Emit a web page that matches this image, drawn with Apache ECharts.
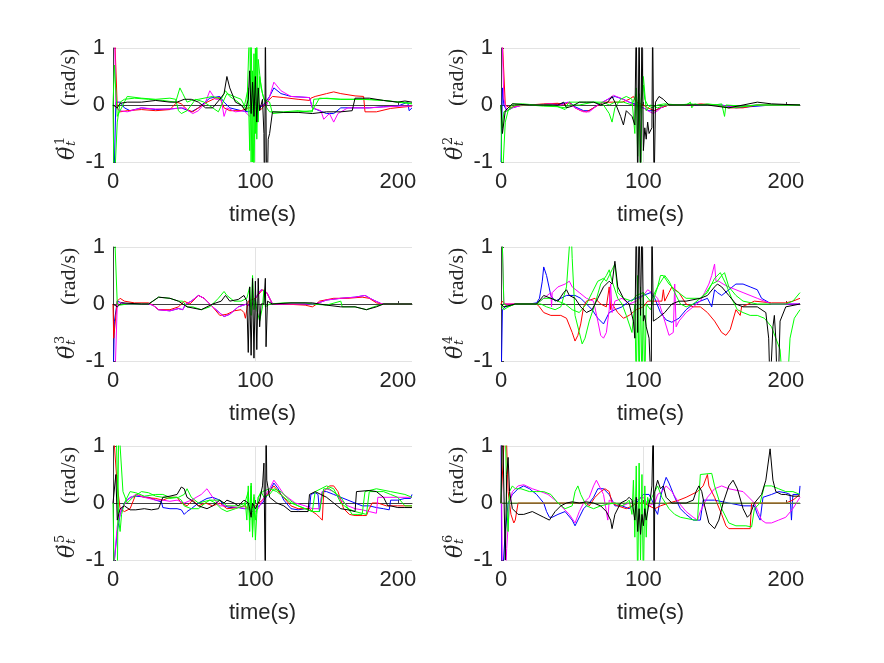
<!DOCTYPE html>
<html>
<head>
<meta charset="utf-8">
<script src="https://cdn.jsdelivr.net/npm/echarts@6/dist/echarts.min.js"></script>
<style>
  html, body { margin: 0; padding: 0; background: #fff; }
  #chart { width: 884px; height: 663px; }
</style>
</head>
<body>
<div id="chart"></div>
<script>
// axis ticks / labels
const xTicks = [0, 100, 200];
const yTicks = [-1, 0, 1];
const xLabel = 'time(s)';
const yUnit = '(rad/s)';

// joint 1  ([time, rate] pairs)
const p1_r = [[0,1.5],[1.5,1.0],[3,-0.05],[5,-0.12],[10,-0.1],[20,-0.08],[30,-0.1],[40,-0.08],[45,0.05],[48,0.02],[52,-0.08],[56,-0.12],[60,-0.05],[66,0.05],[72,0.12],[75,0.13],[78,-0.05],[82,-0.1],[90,-0.1],[95,-0.05],[100,-0.05],[104,-0.08],[108,0.05],[112,0.15],[120,0.13],[130,0.1],[138,0.08],[139,0.12],[142,0.15],[150,0.2],[155,0.23],[160,0.2],[170,0.16],[176,0.15],[177,-0.12],[185,-0.12],[195,-0.06],[210,-0.02]];
const p1_g = [[0,0],[0.8,-1.5],[2,-1.5],[3,-0.3],[5,0.05],[8,0.1],[15,0.12],[25,0.1],[35,0.08],[44,0.05],[47,0.3],[49,0.2],[52,0.05],[55,0.08],[60,0.1],[70,0.15],[76,0.1],[79,0.25],[82,0.15],[88,0.05],[92,-0.05],[95,0.3],[96,-0.8],[97,1.5],[98,-1.0],[99,0.9],[100,-0.5],[101,1.2],[102,-0.3],[103,0.5],[105,0.2],[108,-0.05],[110,-0.12],[120,-0.12],[130,-0.1],[138,-0.12],[140,-0.12],[141,0.1],[150,0.12],[160,0.1],[170,0.1],[180,0.1],[190,0.08],[200,0.05],[210,0.02]];
const p1_g2 = [[0,0],[1,0.7],[2,0.7],[3,-0.2],[5,-0.1],[10,0.15],[20,0.12],[30,0.1],[40,0.12],[44,0.1],[46,-0.1],[48,-0.15],[52,-0.1],[58,0.1],[64,0.05],[70,-0.05],[74,-0.12],[80,0.2],[85,0.15],[90,0.1],[94,-0.1],[96,1.5],[97,-1.0],[98,0.6],[99,-1.5],[100,1.0],[101,-0.6],[102,0.8],[104,0.3],[106,0.1],[110,0.05],[112,-0.15],[120,-0.13],[130,-0.12],[140,-0.1],[145,0.12],[160,0.1],[175,0.1],[190,0.08],[210,0.03]];
const p1_b = [[0,-1.5],[1,-1.0],[2,0.05],[5,0.05],[8,-0.05],[12,-0.1],[20,-0.05],[30,-0.08],[40,-0.07],[48,-0.05],[55,-0.12],[60,-0.05],[68,0.12],[75,0.15],[78,0.05],[82,-0.05],[90,-0.1],[95,-0.12],[100,-0.05],[105,-0.02],[110,0.15],[113,0.3],[118,0.2],[125,0.15],[138,0.13],[140,-0.05],[145,-0.1],[150,-0.15],[155,-0.15],[160,-0.05],[170,-0.05],[180,-0.05],[190,-0.03],[200,-0.02],[207,0.05],[208,-0.1],[210,-0.05]];
const p1_m = [[0,1.5],[1.2,1.2],[2,-0.05],[5,-0.1],[10,-0.12],[20,-0.05],[30,-0.07],[40,-0.07],[50,-0.05],[56,-0.15],[60,-0.1],[65,0.05],[68,0.25],[72,0.1],[76,0.1],[78,-0.2],[80,-0.05],[86,-0.12],[92,-0.1],[96,-0.2],[100,-0.05],[105,0],[108,0],[110,0.15],[113,0.4],[118,0.25],[125,0.15],[138,0.13],[140,-0.05],[146,-0.1],[148,-0.25],[152,-0.15],[155,-0.3],[158,-0.15],[165,-0.05],[180,-0.05],[200,-0.02],[210,-0.02]];
const p1_k = [[0,0],[3,-0.05],[5,0.03],[10,0.05],[20,0.05],[30,0.08],[40,0.05],[45,0.05],[50,0.1],[55,0.1],[60,0.05],[65,-0.05],[70,-0.05],[75,0.1],[78,0.2],[80,0.5],[82,0.3],[86,0.05],[90,0],[93,-0.1],[95,0.1],[96,0.6],[97,-0.15],[98,0.4],[99,-0.2],[100,0.5],[101,-0.3],[102,0.3],[103,-0.1],[105,0.1],[106,-0.5],[106.5,-2],[107,1.5],[108,-2],[109,-0.6],[110,-0.5],[112,-0.12],[120,-0.13],[130,-0.13],[140,-0.15],[150,-0.12],[160,-0.12],[168,-0.1],[170,0.12],[180,0.12],[190,0.08],[200,0.05],[205,0.07],[210,0.05]];

// joint 2
const p2_r = [[0,1.5],[1.2,1],[3,0],[6,-0.05],[10,-0.02],[20,0],[30,0.02],[40,0.03],[44,0],[48,0.05],[52,-0.05],[56,-0.1],[60,-0.12],[65,-0.05],[72,0.05],[80,0.05],[85,0.05],[90,0.1],[93,0.15],[95,0.05],[100,0],[103,-0.05],[108,-0.1],[112,-0.05],[118,0],[125,0],[135,0],[140,0.02],[150,0],[160,-0.05],[170,-0.05],[180,0],[195,0],[210,0]];
const p2_g = [[0,0],[0.6,-1.5],[2,-1.5],[3,-0.3],[5,-0.1],[8,0.02],[15,0.02],[25,0],[35,0],[40,-0.03],[45,-0.05],[48,0.05],[52,0.05],[58,0.05],[66,0.05],[72,0],[76,-0.15],[78,-0.3],[80,-0.05],[84,0.1],[88,0.15],[92,0.1],[94,-0.5],[95,0.3],[96,-0.9],[97,0.2],[98,-1.5],[99,0.1],[100,0.35],[101,0.1],[103,0],[106,-0.05],[110,0],[115,0.02],[125,0],[130,0],[133,0.05],[134,-0.05],[136,0.02],[140,0],[150,0],[155,0.02],[157,-0.2],[158,0],[170,-0.02],[180,0],[195,0],[210,0]];
const p2_g2 = [[0,0],[1,-0.4],[2,-0.12],[5,-0.1],[10,0],[20,0],[30,-0.02],[40,-0.03],[45,-0.08],[48,0],[55,0],[65,0.05],[72,0.05],[76,0],[80,0.05],[86,0.05],[92,0],[95,0.2],[97,-0.3],[100,0.5],[102,-0.1],[105,0],[110,-0.05],[115,0],[125,0],[133,0.02],[140,0],[145,0.02],[152,0],[160,-0.05],[170,-0.03],[180,0],[210,0]];
const p2_b = [[0,-1],[1,0.3],[2,0],[4,-0.1],[8,-0.05],[15,0],[25,0],[35,0.02],[42,0.02],[48,0.05],[52,-0.03],[58,-0.1],[62,-0.1],[68,0],[75,0.1],[80,0.15],[86,0.1],[90,0.05],[96,0],[100,-0.05],[104,-0.1],[108,-0.1],[112,-0.05],[118,0],[130,0],[145,0],[155,0],[165,-0.05],[175,-0.03],[190,0],[210,0]];
const p2_m = [[0,1.5],[1,1.0],[2,0.1],[4,-0.1],[8,-0.05],[15,0],[25,0],[35,0.02],[42,0],[47,0.05],[52,-0.05],[58,-0.12],[62,-0.12],[68,0],[75,0.1],[79,0.17],[84,0.12],[90,0.05],[95,-0.02],[100,-0.05],[103,-0.1],[107,-0.15],[110,-0.1],[115,0],[130,0],[150,0],[165,-0.03],[180,0],[210,0]];
const p2_k = [[0,0],[1,-0.5],[3,-0.1],[8,0.02],[20,0],[30,0],[40,0],[44,0.05],[46,-0.05],[50,-0.02],[55,0.05],[60,0.05],[65,0.05],[70,0],[75,0.05],[78,0.15],[80,0.05],[84,-0.2],[86,-0.35],[88,-0.1],[92,-0.2],[94,-0.35],[95,1.5],[96,-1.5],[97,1.5],[98,-1.5],[99,1.5],[100,-0.8],[101,-0.4],[102,-0.6],[103,-0.3],[104,-0.5],[106,-0.4],[106.5,1.5],[107.5,-1.5],[108.5,0.05],[111,0.15],[114,0.1],[118,0],[130,0],[145,0],[160,-0.05],[170,0],[180,0.05],[190,0.02],[210,0]];

// joint 3
const p3_r = [[0,0],[0.5,-0.6],[1.5,-0.6],[3,0.05],[5,0.1],[8,0.05],[15,0.02],[25,0.02],[28,-0.02],[32,-0.1],[40,-0.1],[46,-0.05],[50,0.05],[54,0],[58,0.1],[60,0.15],[64,0.1],[70,-0.05],[75,-0.2],[80,-0.18],[85,-0.12],[90,-0.1],[92,-0.15],[93,-0.25],[95,0.05],[100,0.1],[105,0.25],[108,0.2],[112,0],[120,0],[135,-0.02],[140,-0.05],[142,-0.02],[145,0.05],[155,0.1],[165,0.1],[175,0.12],[180,0.1],[185,0.02],[190,0],[210,0]];
const p3_g = [[0,1.5],[1.5,1.0],[3,0],[5,-0.02],[10,0],[25,0],[28,0.05],[32,0.12],[40,0.1],[46,0.05],[49,0.05],[52,-0.05],[56,-0.05],[62,-0.1],[68,-0.05],[74,0.1],[78,0.22],[80,0.15],[85,0.05],[90,0.05],[94,0.1],[96,0.3],[97,-0.2],[98,0.5],[99,-0.1],[100,0.1],[101,-0.1],[103,-0.3],[105,-0.05],[106,0.25],[107,-0.05],[110,0],[120,0.02],[135,0.02],[140,0],[150,-0.02],[160,0.05],[161,-0.05],[170,-0.05],[178,-0.1],[183,-0.05],[190,0],[210,0]];
const p3_b = [[0,-1.5],[1,-0.3],[3,0.05],[6,0.02],[10,0],[25,0],[28,-0.02],[32,-0.1],[40,-0.12],[46,-0.08],[49,-0.1],[51,0],[55,0.05],[60,0.15],[64,0.1],[70,-0.05],[78,-0.22],[82,-0.18],[88,-0.05],[94,0],[97,-0.05],[100,0.1],[104,0.25],[108,0.2],[112,0],[120,0],[135,0],[142,0],[150,0.07],[160,0.1],[170,0.12],[177,0.15],[182,0.08],[188,0.01],[190,0],[210,0]];
const p3_m = [[0,-1.5],[1.5,-1.2],[3,0],[5,0.03],[10,0],[25,0],[28,-0.02],[32,-0.1],[40,-0.12],[46,-0.08],[49,-0.1],[51,0],[55,0.05],[60,0.15],[64,0.1],[70,-0.05],[78,-0.22],[82,-0.18],[88,-0.05],[94,0],[97,-0.05],[100,0.1],[104,0.25],[108,0.2],[112,0],[120,0],[135,0],[142,0],[150,0.07],[160,0.1],[170,0.12],[177,0.15],[182,0.08],[188,0.01],[190,0],[210,0]];
const p3_k = [[0,0],[3,-0.05],[6,0.02],[20,0],[25,0],[28,0.05],[32,0.12],[40,0.1],[46,0.05],[52,-0.05],[62,-0.1],[70,0],[76,0.05],[79,0.15],[82,0.05],[88,0.08],[92,0.15],[94,0.05],[95,-0.85],[96,0.3],[97,-0.9],[98,0.45],[99,-0.95],[100,0.4],[101,-0.8],[102,0.45],[103,-0.4],[104,0],[106,0],[107,0.45],[107.5,-0.75],[108.5,0.05],[112,0],[125,0.02],[140,0.02],[150,-0.02],[160,-0.05],[170,-0.05],[178,-0.1],[185,-0.05],[190,0],[210,0]];

// joint 4
const p4_r = [[0,0],[1,0.05],[3,0],[10,0],[25,0],[27,-0.05],[30,-0.15],[35,-0.2],[42,-0.2],[46,-0.25],[50,-0.5],[52,-0.65],[54,-0.55],[56,-0.35],[58,-0.05],[60,0.05],[66,0.1],[70,0],[74,-0.05],[76,0.3],[77,-0.1],[78,0],[82,-0.15],[86,-0.25],[90,-0.2],[95,-0.1],[100,-0.05],[103,0.05],[110,0.05],[113,0.05],[114,0.25],[115,0.05],[118,0.2],[120,0.3],[125,0.2],[130,0],[135,-0.05],[140,-0.05],[145,-0.15],[150,-0.3],[155,-0.5],[158,-0.55],[161,-0.45],[165,-0.1],[166,-0.08],[168,-0.2],[169,-0.05],[172,-0.02],[178,0.05],[190,0.02],[200,0.02],[205,0.05],[210,0.1]];
const p4_g = [[0,1.5],[1,1.0],[2,0],[5,-0.05],[10,0],[20,0],[28,0],[32,-0.05],[38,-0.1],[42,-0.05],[46,0.3],[48,1.0],[49,1.5],[50,0.8],[52,-0.2],[55,-0.5],[57,-0.7],[59,-0.6],[62,-0.3],[66,0],[70,0.35],[74,0.5],[76,0.6],[78,0.4],[82,0.1],[85,0],[88,-0.2],[92,-0.5],[94,0],[95,-1.5],[96,0.5],[97,-1.5],[98,0.3],[99,-1.5],[100,0.2],[101,-1.5],[102,0],[105,-0.1],[110,0.3],[115,0.5],[118,0.4],[122,0.2],[126,0],[130,-0.05],[135,0],[140,0.1],[145,0.2],[150,0.45],[154,0.55],[158,0.35],[162,0.1],[166,-0.1],[170,-0.15],[175,-0.2],[180,-0.2],[185,-0.25],[190,-0.4],[196,-0.8],[198,-1.5],[201,-1.5],[203,-0.6],[206,-0.25],[210,-0.1]];
const p4_g2 = [[0,0],[2,-0.1],[5,-0.05],[10,0],[25,0],[30,0.1],[35,0.1],[40,0.05],[45,0],[50,-0.1],[55,-0.15],[60,0],[64,0.2],[68,0.4],[72,0.45],[74,0.4],[78,0.6],[80,0.7],[82,0.2],[86,0.1],[92,0.05],[95,0.15],[100,0.2],[105,0.05],[110,0.3],[112,0.5],[114,0.5],[118,0.35],[122,0.25],[130,0.1],[140,0.1],[144,0.2],[148,0.35],[152,0.4],[155,0.5],[157,0.55],[160,0.3],[165,0.15],[170,0.05],[180,0],[190,0],[200,0],[205,0.05],[210,0.2]];
const p4_b = [[0,-1.5],[1,-0.1],[3,-0.05],[10,0],[20,0],[25,0.02],[27,0.1],[29,0.4],[30,0.65],[31,0.68],[32,0.5],[35,0.15],[38,0.05],[42,0.1],[46,0.15],[52,0.15],[56,0.1],[60,0],[64,-0.1],[68,-0.25],[72,-0.35],[76,-0.15],[80,-0.1],[85,-0.05],[90,0.05],[95,0.1],[100,0.15],[105,0.2],[108,0.1],[112,-0.15],[116,-0.28],[120,-0.32],[125,-0.25],[130,-0.1],[135,0],[140,0.05],[145,0.1],[148,-0.05],[150,0.25],[152,0.2],[155,0.15],[160,0.25],[165,0.35],[170,0.35],[175,0.3],[180,0.25],[183,0.1],[190,0],[200,0],[210,0]];
const p4_m = [[0,1.5],[1,1.0],[2,0],[10,0],[25,0],[30,0.1],[35,0.2],[35.5,-0.05],[36,0.2],[40,0.3],[45,0.35],[48,0.4],[50,0.3],[55,0.2],[60,0.1],[65,0.05],[68,-0.3],[70,-0.55],[72,-0.6],[74,-0.5],[76,-0.1],[77,0.35],[78,-0.15],[80,0.05],[85,0.1],[90,0],[95,0.05],[100,0.15],[103,0.25],[106,0.2],[110,0.1],[115,-0.3],[118,-0.55],[121,-0.5],[122,0.35],[123,-0.4],[125,-0.3],[130,-0.15],[135,-0.05],[140,0.05],[143,0.2],[146,0.35],[148,0.5],[150,0.7],[151,0.4],[153,0.4],[156,0.35],[160,0.3],[170,0.2],[180,0.1],[190,0],[210,0]];
const p4_k = [[0,0],[2,-0.05],[10,0],[25,0],[30,0.15],[35,0.1],[40,0.05],[44,0.2],[46,0.25],[48,0.15],[52,0.1],[56,-0.05],[60,-0.15],[64,-0.1],[68,0.1],[72,0.3],[76,0.4],[78,0.35],[80,0.75],[82,0.3],[86,0.1],[90,0],[93,-0.3],[94,-0.6],[95,1.5],[96,-0.5],[97,1.5],[98,-0.2],[99,1.5],[100,-0.3],[101,-0.2],[102,-0.4],[104,-0.6],[105.5,-1.5],[106,1.5],[107,-0.3],[110,-0.25],[115,-0.15],[120,0],[125,0.05],[130,0.05],[140,0.1],[145,0.15],[150,0.3],[152,0.35],[155,0.3],[160,0.15],[165,0],[170,-0.05],[180,-0.05],[186,-0.15],[188,-0.6],[189,-1.5],[190,-1.5],[191,-0.4],[192,-0.2],[193,-0.6],[194,-1.5],[195,-1.2],[196,-0.3],[200,-0.05],[210,0]];

// joint 5
const p5_r = [[0,1.5],[1,1.0],[3,0.3],[5,-0.1],[8,-0.15],[12,-0.1],[16,0.15],[22,0.1],[30,0.08],[35,0.05],[40,0.1],[45,0.1],[48,0],[52,-0.05],[56,0.05],[60,-0.05],[65,0],[70,-0.05],[75,0],[80,-0.1],[88,-0.08],[92,-0.05],[96,-0.1],[100,-0.05],[105,0.05],[110,0.2],[113,0.3],[118,0.15],[125,-0.05],[130,-0.1],[138,-0.1],[140,-0.15],[143,-0.2],[145,-0.25],[147,-0.3],[148,0.2],[152,0.3],[155,0.3],[158,0.2],[162,-0.1],[166,-0.2],[170,-0.22],[175,-0.22],[178,-0.22],[180,-0.1],[182,0],[186,0],[192,-0.05],[200,-0.05],[210,-0.05]];
const p5_g = [[0,1.5],[2,1.5],[3,0.5],[4,-0.3],[5,-0.5],[6,-0.2],[8,0],[12,0.2],[16,0.18],[22,0.12],[30,0.15],[35,0.15],[40,0.1],[45,0.1],[48,0.05],[50,-0.05],[55,-0.1],[60,-0.1],[65,0],[68,0.05],[72,0],[76,-0.1],[80,-0.15],[86,-0.1],[92,-0.05],[95,0.2],[96,-0.3],[97,0.3],[98,-0.5],[99,0.1],[100,-0.65],[101,-0.2],[102,0.1],[104,0.2],[106,0.1],[110,0.15],[113,0.25],[118,0.2],[124,0.05],[130,-0.05],[140,-0.15],[142,0.2],[146,0.25],[150,0.3],[155,0.25],[160,0],[165,-0.1],[170,-0.15],[178,-0.2],[180,0.2],[185,0.2],[190,0.2],[195,0.15],[200,0.1],[205,-0.05],[210,-0.05]];
const p5_g2 = [[0,0],[1,-1.5],[3,-1.5],[4,1.5],[5,1.0],[7,0.2],[10,0],[14,0.1],[20,0.2],[25,0.18],[30,0.12],[40,0.08],[46,0.1],[50,0.15],[52,0.25],[55,0.1],[60,0],[68,0.05],[75,0.05],[80,-0.05],[88,-0.05],[93,0],[94,-0.3],[95,0.3],[96,-0.5],[97,0.35],[98,-0.6],[99,0.15],[100,-0.3],[102,0.1],[105,0.2],[110,0.25],[115,0.2],[125,0],[135,-0.1],[140,-0.15],[145,-0.15],[148,0.25],[152,0.25],[160,0.1],[168,-0.2],[172,-0.2],[175,-0.2],[177,0.2],[185,0.25],[195,0.2],[205,0.15],[210,0.1]];
const p5_b = [[0,-1.5],[1,-1.0],[3,-0.5],[5,-0.2],[8,0],[12,0.1],[16,0.12],[25,0.1],[30,0.05],[34,0.02],[35,-0.08],[40,-0.1],[45,-0.1],[48,-0.12],[50,-0.2],[52,-0.15],[55,-0.1],[60,0],[66,0.08],[70,0.1],[75,0.05],[78,-0.05],[82,-0.08],[88,-0.08],[92,-0.1],[95,-0.1],[98,-0.15],[100,-0.1],[105,0],[110,0.2],[113,0.35],[116,0.25],[120,0.05],[125,-0.1],[130,-0.12],[135,-0.1],[138,-0.1],[139,0.15],[142,0.18],[144,0.15],[145,-0.15],[147,0.2],[150,0.2],[155,0.15],[160,0.1],[165,0.05],[170,0],[175,-0.05],[180,-0.05],[185,-0.08],[190,-0.1],[194,-0.12],[195,0.05],[200,0.05],[205,0.08],[209,0.08],[210,0.15]];
const p5_m = [[0,-1.5],[1,-1.0],[3,-0.4],[6,-0.1],[10,0.05],[16,0.15],[22,0.1],[30,0.05],[35,0.05],[40,0.03],[45,0.05],[50,0],[55,0.05],[62,0.15],[66,0.25],[70,0.1],[75,-0.05],[80,-0.05],[88,-0.08],[95,-0.1],[98,-0.2],[102,-0.1],[106,0.1],[110,0.25],[113,0.4],[116,0.3],[120,0.15],[128,0],[135,-0.05],[140,-0.1],[145,-0.1],[147,0.2],[150,0.25],[155,0.2],[160,0.05],[165,-0.05],[170,-0.1],[175,-0.12],[180,-0.15],[185,-0.18],[186,0.1],[190,0.1],[200,0.1],[210,0.1]];
const p5_k = [[0,0],[2,0.5],[3,-0.3],[5,-0.1],[8,-0.05],[12,-0.12],[16,-0.12],[22,-0.1],[27,-0.12],[32,-0.1],[35,0.1],[40,0.12],[45,0.15],[48,0.28],[50,0.25],[52,0.1],[55,0.05],[60,-0.05],[66,-0.1],[70,-0.05],[75,0.05],[78,0],[80,0.05],[85,0],[88,-0.05],[92,0.05],[95,0],[96,-0.1],[97,-0.25],[98,0],[100,-0.1],[103,0.05],[105,0.3],[106,0.7],[107,-1.5],[107.5,1.5],[108,0.4],[110,0.1],[115,0],[120,-0.05],[125,-0.15],[130,-0.15],[137,-0.15],[138,0.15],[142,0.2],[146,0.15],[150,0.1],[155,0],[160,-0.1],[165,-0.12],[170,-0.15],[171,0.2],[180,0.22],[185,0.2],[190,0.1],[193,-0.05],[195,-0.05],[200,-0.08],[205,-0.08],[210,-0.08]];

// joint 6
const p6_r = [[0,0],[1,0],[3,1.5],[4,1.0],[5,0.2],[7,-0.2],[9,-0.35],[10,-0.3],[12,0],[60,0],[62,-0.05],[66,0.1],[70,0.2],[73,0.25],[76,0.2],[78,0],[82,-0.05],[88,-0.1],[92,-0.05],[96,0],[100,0],[104,-0.05],[108,-0.1],[112,-0.05],[118,0],[125,0.05],[130,0.1],[138,0.2],[142,0.3],[145,0.5],[146,0.3],[150,0.1],[155,-0.2],[158,-0.4],[160,-0.45],[170,-0.45],[175,-0.45],[176,0],[200,0],[205,0.05],[210,0.15]];
const p6_g = [[0,0],[1,1.5],[3,1.5],[4,0],[5,-0.5],[6,0.2],[8,0.3],[10,0.25],[14,0.25],[20,0.2],[25,0.2],[30,0.2],[35,0.15],[40,0],[45,-0.1],[50,-0.05],[52,0.2],[54,0.3],[56,0.15],[60,-0.05],[65,-0.1],[70,-0.05],[75,-0.02],[80,0],[85,-0.05],[88,0],[90,0.05],[92,-0.2],[93,0.4],[94,-0.6],[95,0.65],[96,-1.5],[97,0.7],[98,-1.0],[99,0.5],[100,-1.5],[101,0.3],[102,-0.6],[103,0.1],[104,0],[106,0.1],[108,0.2],[110,0.3],[113,0.1],[118,-0.1],[122,-0.2],[126,-0.25],[132,-0.28],[136,-0.3],[138,-0.3],[140,0.5],[148,0.52],[150,0.3],[155,-0.1],[160,-0.35],[165,-0.4],[172,-0.4],[176,-0.42],[178,-0.1],[182,0],[185,0.3],[190,0.3],[195,0.25],[200,0.2],[205,0.2],[210,0.15]];
const p6_g2 = [[0,0],[12,0],[60,0],[120,0],[180,0],[210,0]];
const p6_b = [[0,1.5],[0.5,-1.5],[1.5,-1.5],[3,-0.5],[5,0],[8,0.15],[12,0.25],[16,0.3],[20,0.25],[25,0.15],[30,0],[32,-0.15],[34,-0.25],[36,-0.25],[40,-0.2],[45,-0.15],[50,-0.3],[52,-0.4],[54,-0.3],[58,-0.1],[62,0],[65,0.1],[68,0.25],[72,0.25],[76,0.15],[80,-0.05],[85,-0.05],[90,-0.1],[95,0],[100,0.15],[104,0.15],[106,0.05],[108,-0.1],[110,-0.2],[112,0.1],[114,0.3],[116,0.45],[118,0.35],[122,0.1],[126,-0.1],[130,-0.2],[135,-0.3],[138,-0.3],[140,-0.3],[142,0.05],[146,0.05],[150,0.05],[160,0],[170,-0.05],[178,-0.05],[180,-0.2],[182,-0.3],[184,0.1],[190,0.15],[195,0.2],[200,0.18],[203,0.15],[204,-0.3],[205,0.15],[209.5,0.15],[210,0.3]];
const p6_m = [[0,1.5],[1,-1.5],[3,-1.5],[4,-0.8],[6,0],[8,0.2],[12,0.3],[16,0.32],[22,0.25],[28,0.2],[33,0.15],[38,0.05],[42,-0.05],[48,-0.2],[52,-0.35],[55,-0.15],[58,0],[62,0.1],[65,0.3],[67,0.4],[69,0.3],[72,0.15],[75,-0.3],[76,0.05],[80,0],[85,-0.05],[90,0],[95,0.05],[100,0.1],[104,-0.05],[108,0],[110,0.15],[113,0.2],[116,0.3],[120,0.2],[125,0],[130,-0.15],[135,-0.25],[138,-0.3],[140,-0.15],[145,0.1],[150,0.25],[155,0.3],[160,0.25],[170,0.2],[178,0],[183,-0.3],[186,-0.35],[190,-0.35],[195,-0.3],[200,-0.25],[205,-0.1],[210,0.1]];
const p6_k = [[0,0],[1,1.5],[2,1.5],[3,-1.0],[4,0.5],[5,0.8],[6,0.2],[8,-0.1],[12,-0.2],[16,-0.2],[22,-0.15],[26,-0.2],[30,-0.25],[34,-0.3],[38,-0.15],[42,-0.05],[46,0],[50,0.02],[55,0],[60,0.02],[65,0],[70,-0.05],[74,-0.15],[77,-0.3],[78,-0.45],[80,-0.2],[84,0],[88,0.05],[90,0.1],[92,0.05],[94,-0.3],[95,0.1],[96,-0.5],[97,-0.1],[98,-0.55],[99,-0.2],[100,-0.4],[101,-0.1],[102,-0.3],[104,0],[105,0.1],[106,0.3],[107,1.5],[107.5,-1.5],[108,0.2],[110,0.4],[112,0.25],[114,0.3],[116,0.1],[120,0],[130,0],[135,0.05],[137,0.2],[139,0.3],[141,0.2],[143,-0.05],[146,-0.35],[150,-0.45],[153,-0.3],[156,0],[160,0.3],[163,0.4],[166,0.25],[170,-0.1],[173,-0.25],[175,-0.2],[178,0],[183,0.15],[186,0.4],[189,0.95],[191,0.4],[193,0.2],[197,0.15],[200,0.15],[205,0.12],[210,0.12]];

// drawing order: blue, red, magenta, 2nd green, green, black (black on top)
const panels = [
  { joint: 1, lines: [p1_b, p1_r, p1_m, p1_g2, p1_g, p1_k] },
  { joint: 2, lines: [p2_b, p2_r, p2_m, p2_g2, p2_g, p2_k] },
  { joint: 3, lines: [p3_b, p3_r, p3_m, null, p3_g, p3_k] },
  { joint: 4, lines: [p4_b, p4_r, p4_m, p4_g2, p4_g, p4_k] },
  { joint: 5, lines: [p5_b, p5_r, p5_m, p5_g2, p5_g, p5_k] },
  { joint: 6, lines: [p6_b, p6_r, p6_m, p6_g2, p6_g, p6_k] }
];
const lineColors = ['#0000ff', '#ff0000', '#ff00ff', '#00ff00', '#00ff00', '#000000'];
const lineColors6 = ['#0000ff', '#ff0000', '#ff00ff', '#6aa83a', '#00ff00', '#000000'];

const chart = echarts.init(document.getElementById('chart'));

const lefts = [113, 501];
const tops = [48, 247, 446];
const plotW = 299, plotH = 114;
const textCol = '#262626';
const grids = [], xAxes = [], yAxes = [], series = [], labels = [];

// y label: dotted theta with stacked sub/superscript, written bottom-to-top
function yLabel(joint, gx, gy) {
  const serif = '"DejaVu Serif", serif';
  return {
    type: 'group', x: gx, y: gy, rotation: Math.PI / 2, silent: true,
    children: [
      { type: 'text', x: 0, y: 4, style: { text: 'θ', font: 'italic 22px ' + serif, fill: textCol, verticalAlign: 'bottom' } },
      { type: 'text', x: 6, y: 3, style: { text: '˙', font: '22px ' + serif, fill: textCol, verticalAlign: 'bottom' } },
      { type: 'text', x: 15, y: -8, style: { text: String(joint), font: '13px ' + serif, fill: textCol, verticalAlign: 'bottom' } },
      { type: 'text', x: 14, y: 3, style: { text: 't', font: 'italic 13px ' + serif, fill: textCol, verticalAlign: 'bottom' } },
      { type: 'text', x: 54, y: 5, style: { text: yUnit, font: '22px "Liberation Serif", serif', fill: textCol, verticalAlign: 'bottom' } }
    ]
  };
}

panels.forEach(function (p, i) {
  const left = lefts[i % 2], top = tops[Math.floor(i / 2)];
  grids.push({ left: left, top: top, width: plotW, height: plotH });
  xAxes.push({
    type: 'value', gridIndex: i, min: 0, max: 210, interval: 100,
    name: xLabel, nameLocation: 'middle', nameGap: 42,
    nameTextStyle: { fontFamily: 'Liberation Sans', fontSize: 22, color: textCol },
    axisLine: { lineStyle: { color: '#404040', width: 1 } },
    axisTick: { inside: true, length: 3, customValues: xTicks, lineStyle: { color: '#404040' } },
    axisLabel: { customValues: xTicks, margin: 9, fontFamily: 'Liberation Sans', fontSize: 22, color: textCol },
    splitLine: { show: true, showMaxLine: false, lineStyle: { color: '#e3e3e3', width: 1 } }
  });
  yAxes.push({
    type: 'value', gridIndex: i, min: -1, max: 1, interval: 1,
    axisLine: { show: true, lineStyle: { color: '#404040', width: 1 } },
    axisTick: { show: true, inside: true, length: 3, customValues: yTicks, lineStyle: { color: '#404040' } },
    axisLabel: { customValues: yTicks, margin: 8, fontFamily: 'Liberation Sans', fontSize: 22, color: textCol },
    splitLine: { show: true, lineStyle: { color: '#e3e3e3', width: 1 } }
  });
  labels.push(yLabel(p.joint, left - 38, top + plotH - 2));
  const cols = i === 5 ? lineColors6 : lineColors;
  p.lines.forEach(function (d, k) {
    if (!d) return;
    series.push({
      type: 'line', xAxisIndex: i, yAxisIndex: i, data: d,
      showSymbol: false, symbol: 'none', clip: true,
      lineStyle: { color: cols[k], width: 1 }, z: 2 + k
    });
  });
});

chart.setOption({
  animation: false,
  backgroundColor: '#ffffff',
  grid: grids,
  xAxis: xAxes,
  yAxis: yAxes,
  graphic: { elements: labels },
  series: series
});
</script>
</body>
</html>
